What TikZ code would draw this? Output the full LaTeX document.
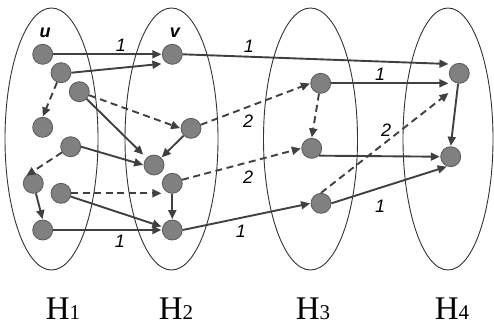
\documentclass[tikz,border=0pt]{standalone}
\usepackage{fontspec}
\setmainfont{Liberation Serif}
\newfontfamily\lblfont{Liberation Sans}
\usetikzlibrary{arrows.meta}
\definecolor{nodefill}{HTML}{808080}
\definecolor{nodeline}{HTML}{5A5A5A}
\definecolor{edgecol}{HTML}{404040}
\definecolor{ellcol}{HTML}{333333}
\tikzset{
  vtx/.style={circle, fill=nodefill, draw=nodeline, line width=0.8pt, minimum size=20pt, inner sep=0pt},
  arr/.style={draw=edgecol, line width=1.9pt, -{Triangle[length=9pt,width=8pt]}, shorten >=0.5pt},
  darr/.style={arr, dash pattern=on 7pt off 4.5pt},
  ell/.style={draw=ellcol, line width=0.9pt},
  wlab/.style={font=\lblfont\itshape\fontsize{18}{18}\selectfont, text=black, inner sep=0pt},
  vlab/.style={font=\lblfont\bfseries\itshape\fontsize{18}{18}\selectfont, text=black, inner sep=0pt},
  hlab/.style={font=\fontsize{33}{33}\selectfont, text=black, inner sep=0pt, anchor=base}
}
\begin{document}
\begin{tikzpicture}[x=1pt,y=-1pt]
\useasboundingbox (0,0) rectangle (494,325);
% ellipses
\draw[ell] (51.5,139) ellipse [x radius=46.5, y radius=131];
\draw[ell] (171.5,139) ellipse [x radius=46.5, y radius=131];
\draw[ell] (310.5,139) ellipse [x radius=47, y radius=131];
\draw[ell] (448,139) ellipse [x radius=45, y radius=131];
% H1
\node[vtx] (u) at (42.7,54.3) {};
\node[vtx] (a2) at (61,72.7) {};
\node[vtx] (a3) at (79.3,91.7) {};
\node[vtx] (a4) at (42.7,127.3) {};
\node[vtx] (a5) at (70.7,146.7) {};
\node[vtx] (a6) at (33.3,183.3) {};
\node[vtx] (a7) at (61,193.3) {};
\node[vtx] (a8) at (42.7,230) {};
% H2
\node[vtx] (v) at (172.3,54.3) {};
\node[vtx] (b2) at (191,128.3) {};
\node[vtx] (b3) at (154,165) {};
\node[vtx] (b4) at (172.3,183.3) {};
\node[vtx] (b5) at (172.3,230) {};
% H3
\node[vtx] (c1) at (320.7,83.3) {};
\node[vtx] (c2) at (311.7,148.3) {};
\node[vtx] (c3) at (321,203.3) {};
% H4
\node[vtx] (d1) at (459.3,73.3) {};
\node[vtx] (d2) at (450.7,156.7) {};
% vertex labels
\node[vlab] (ul) at (45,33) {u};
\node[vlab] (vl) at (175,33) {v};
% edges
\draw[arr] (u) -- (v);
\draw[arr] (a2.east) -- ([yshift=-9.5pt]v.west);
\draw[darr] (a2) -- (a4.north);
\draw[darr] (a3) -- (b2.west);
\draw[arr] (a3) -- ([yshift=10pt]b3.west);
\draw[arr] (a5.east) -- (b3.west);
\draw[darr] (a5) -- (a6.north west);
\draw[arr] (a6) -- (a8.north);
\draw[darr] (a7.east) -- ([yshift=-10pt]b4.west);
\draw[arr] (a7) -- ([yshift=3.3pt]b5.west);
\draw[arr] (a8) -- (b5);
\draw[arr] (b2) -- (b3.north east);
\draw[arr] (b4) -- (b5.north);
\draw[arr] (v.east) -- ([yshift=9.3pt]d1.west);
\draw[darr] (b2.20) -- (c1.west);
\draw[darr] (b4.20) -- (c2.west);
\draw[arr] (b5.east) -- (c3.west);
\draw[arr] (c1.east) -- ([yshift=-10pt]d1.west);
\draw[darr] (c1) -- (c2.north);
\draw[arr] (c2.south east) -- (d2.west);
\draw[darr] (c3.north) -- ([yshift=-19.4pt]d1.west);
\draw[arr] (c3.east) -- (d2.-110);
\draw[arr] (d1) -- (d2.north);
% weights
\node[wlab] (w1) at (121,45) {1};
\node[wlab] (w2) at (120,241) {1};
\node[wlab] (w3) at (249,46) {1};
\node[wlab] (w4) at (248,121) {2};
\node[wlab] (w5) at (248,177) {2};
\node[wlab] (w6) at (241,231) {1};
\node[wlab] (w7) at (380,74) {1};
\node[wlab] (w8) at (386,130) {2};
\node[wlab] (w9) at (380,206) {1};
% set labels
\node[hlab] (h1) at (63,319) {H\fontsize{21}{21}\selectfont 1};
\node[hlab] (h2) at (176,319) {H\fontsize{21}{21}\selectfont 2};
\node[hlab] (h3) at (313,319) {H\fontsize{21}{21}\selectfont 3};
\node[hlab] (h4) at (452,319) {H\fontsize{21}{21}\selectfont 4};
\end{tikzpicture}
\end{document}
